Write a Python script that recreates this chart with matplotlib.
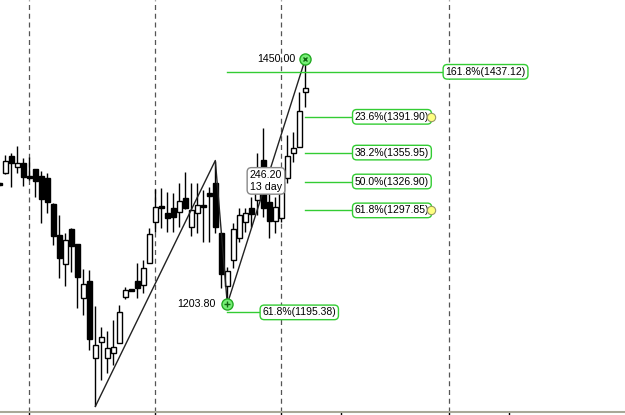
import matplotlib
matplotlib.use("Agg")
import matplotlib.pyplot as plt

# candle data, one entry per bar (index -1 is the bar cut off at the left edge)
opens = [1325, 1335.7, 1352.5, 1341.2, 1345.5, 1332.4, 1339.2, 1332.4, 1330.4, 1304.3, 1273.1,
         1243.7, 1279.2, 1264.1, 1209.5, 1226.9, 1149.8, 1166.1, 1149.2, 1154.2, 1164.3,
         1211.1, 1218.4, 1226.9, 1222.9, 1244.7, 1285.9, 1302.3, 1294.9, 1300.0, 1296.6,
         1310.0, 1280.9, 1294.9, 1303.3, 1315.0, 1325.1, 1274.8, 1221.9, 1248.0, 1269.8,
         1285.9, 1300.0, 1308.3, 1348.5, 1306.6, 1287.7, 1289.9, 1330.1, 1355.2, 1361.9, 1417.1]
closes = [1323, 1347.2, 1345.2, 1345.2, 1331.7, 1330.7, 1327.7, 1309.6, 1306.6, 1272.4, 1250.5,
          1268.1, 1262.4, 1231.2, 1223.6, 1168.9, 1163.1, 1170.4, 1159.3, 1160.3, 1195.4,
          1217.8, 1216.9, 1219.6, 1239.7, 1273.8, 1301.0, 1300.6, 1290.5, 1291.5, 1307.3,
          1300.0, 1298.3, 1303.3, 1301.6, 1312.3, 1280.9, 1233.9, 1236.5, 1278.9, 1293.5,
          1295.2, 1294.0, 1323.4, 1300.0, 1287.2, 1301.6, 1326.4, 1352.5, 1360.3, 1397.8, 1421.2]
highs = [1326, 1353.8, 1355.2, 1362.6, 1350.5, 1351.8, 1339.5, 1337.1, 1335.4, 1305.0, 1293.2,
         1275.4, 1280.5, 1264.1, 1238.7, 1238.0, 1201.8, 1181.0, 1177.0, 1187.7, 1202.8,
         1220.6, 1218.9, 1245.3, 1248.0, 1279.9, 1319.4, 1320.1, 1316.6, 1315.6, 1325.1,
         1336.7, 1325.1, 1325.1, 1318.4, 1321.7, 1348.0, 1274.8, 1241.3, 1285.5, 1300.0,
         1300.0, 1311.6, 1355.2, 1380.4, 1315.0, 1311.6, 1340.5, 1373.6, 1377.0, 1417.1, 1450.0]
lows = [1322, 1334.7, 1321.7, 1335.7, 1322.7, 1328.4, 1311.6, 1285.5, 1295.5, 1263.1, 1229.6,
        1221.9, 1236.2, 1199.5, 1192.7, 1157.5, 1100.8, 1127.4, 1134.7, 1142.5, 1164.3,
        1208.5, 1216.4, 1210.1, 1214.5, 1244.7, 1276.1, 1279.9, 1276.5, 1276.5, 1281.5,
        1299.0, 1272.1, 1274.8, 1266.4, 1266.4, 1275.1, 1219.9, 1203.8, 1239.7, 1266.4,
        1276.5, 1281.5, 1293.2, 1291.5, 1269.8, 1274.8, 1286.2, 1325.1, 1346.8, 1361.9, 1402.1]
first_index = -1

# zigzag swing points (bar index, price)
swing_idx = [15, 35, 37, 50]
swing_price = [1100.8, 1348.0, 1203.8, 1450.0]

# fibonacci levels
fib_pct = ["161.8%", "23.6%", "38.2%", "50.0%", "61.8%", "61.8%"]
fib_val = [1437.12, 1391.90, 1355.95, 1326.90, 1297.85, 1195.38]
fib_start = [37, 50, 50, 50, 50, 37]
fib_end = [72.9, 57.8, 57.8, 57.8, 57.8, 42.4]
fib_dot = [False, True, False, False, True, False]

move_text = "246.20\n13 day"
grid_idx = [4, 25, 46, 74]
tick_idx = [4, 25, 46, 56, 74, 84]

GREEN = "#33cc33"

fig = plt.figure(figsize=(6.25, 4.15), dpi=100)
ax = fig.add_axes([0, 3 / 415, 1, 412 / 415])
ax.set_xlim(-0.883, 103.28)
ax.set_ylim(1095.27, 1509.29)

for s in ["top", "left", "right"]:
    ax.spines[s].set_visible(False)
ax.spines["bottom"].set_color("#a8a898")
ax.spines["bottom"].set_linewidth(1.5)
ax.set_yticks([])
ax.set_xticks(tick_idx)
ax.set_xticklabels([])
ax.tick_params(axis="x", direction="out", length=3, width=1, color="black")

for g in grid_idx:
    ax.axvline(g, color="#555555", lw=0.9, ls=(0, (4, 3)), zorder=1)

idx = list(range(first_index, first_index + len(opens)))
ax.vlines(idx, lows, highs, color="black", lw=1, zorder=2)
bottoms = [min(o, c) for o, c in zip(opens, closes)]
heights = [max(abs(c - o), 0.8) for o, c in zip(opens, closes)]
colors = ["white" if c > o else "black" for o, c in zip(opens, closes)]
ax.bar(idx, heights, bottom=bottoms, width=0.78, color=colors,
       edgecolor="black", linewidth=1, zorder=3)

ax.plot(swing_idx, swing_price, color="#222222", lw=1, zorder=4)

for lbl, v, x0, x1, dot in zip(fib_pct, fib_val, fib_start, fib_end, fib_dot):
    ax.plot([x0, x1], [v, v], color=GREEN, lw=1, zorder=4)
    ax.text(x1 + 0.45, v, f"{lbl}({v:.2f})", fontsize=7.5, family="Liberation Sans",
            va="center", ha="left", zorder=6,
            bbox=dict(boxstyle="round,pad=0.22,rounding_size=0.4", fc="white",
                      ec=GREEN, lw=1))
    if dot:
        ax.plot(70.95, v, "o", ms=6, mfc="#ffff80", mec="#999966", mew=0.8, zorder=7)

# swing markers and price labels
ax.plot(swing_idx[2], swing_price[2], "o", ms=8, mfc="#77ee77", mec="#22aa22", mew=1, zorder=6)
ax.plot(swing_idx[2], swing_price[2], "+", ms=5, color="#116611", mew=1, zorder=7)
ax.plot(swing_idx[3], swing_price[3], "o", ms=8, mfc="#77ee77", mec="#22aa22", mew=1, zorder=6)
ax.plot(swing_idx[3], swing_price[3], "x", ms=3.5, color="#116611", mew=1, zorder=7)
ax.text(swing_idx[2] - 1.9, swing_price[2], f"{swing_price[2]:.2f}", fontsize=7.7,
        family="Liberation Sans", ha="right", va="center")
ax.text(swing_idx[3] - 1.7, swing_price[3], f"{swing_price[3]:.2f}", fontsize=7.7,
        family="Liberation Sans", ha="right", va="center")

ax.text(43.45, 1327.5, move_text, fontsize=7.7, family="Liberation Sans",
        ha="center", va="center", linespacing=1.15, zorder=8,
        bbox=dict(boxstyle="round,pad=0.25,rounding_size=0.4", fc="white",
                  ec="#888888", lw=1))

fig.savefig("out.png", dpi=100)
